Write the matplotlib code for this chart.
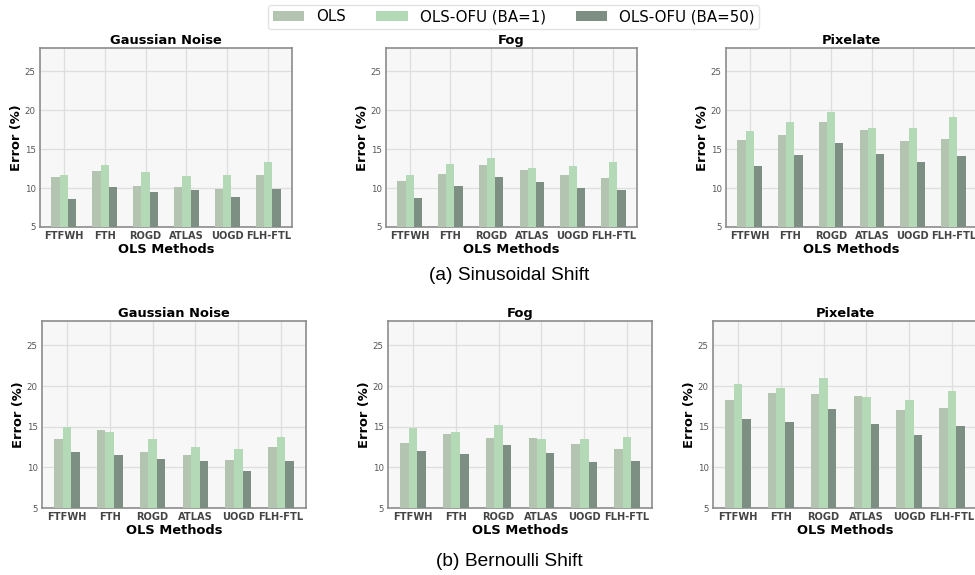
import numpy as np
import matplotlib
matplotlib.use("Agg")
import matplotlib.pyplot as plt

methods = ["FTFWH", "FTH", "ROGD", "ATLAS", "UOGD", "FLH-FTL"]
series = ["OLS", "OLS-OFU (BA=1)", "OLS-OFU (BA=50)"]
colors = ["#b3c5b1", "#b3d9b6", "#7d8e82"]
corruptions = ["Gaussian Noise", "Fog", "Pixelate"]

# Sinusoidal shift: [OLS, BA=1, BA=50] per corruption
sin_gauss_ols = [11.45, 12.18, 10.25, 10.12, 9.86, 11.67]
sin_gauss_ba1 = [11.67, 12.96, 12.05, 11.54, 11.67, 13.34]
sin_gauss_ba50 = [8.57, 10.12, 9.47, 9.73, 8.83, 9.86]

sin_fog_ols = [10.89, 11.80, 12.96, 12.31, 11.67, 11.28]
sin_fog_ba1 = [11.67, 13.09, 13.86, 12.57, 12.83, 13.34]
sin_fog_ba50 = [8.70, 10.25, 11.41, 10.76, 9.99, 9.73]

sin_pix_ols = [16.18, 16.83, 18.51, 17.47, 16.05, 16.31]
sin_pix_ba1 = [17.34, 18.51, 19.80, 17.73, 17.73, 19.15]
sin_pix_ba50 = [12.87, 14.25, 15.80, 14.38, 13.34, 14.12]

# Bernoulli shift
ber_gauss_ols = [13.52, 14.63, 11.93, 11.56, 10.94, 12.54]
ber_gauss_ba1 = [14.92, 14.39, 13.52, 12.54, 12.30, 13.77]
ber_gauss_ba50 = [11.93, 11.56, 11.07, 10.82, 9.59, 10.82]

ber_fog_ols = [13.03, 14.14, 13.65, 13.65, 12.91, 12.30]
ber_fog_ba1 = [14.88, 14.39, 15.25, 13.52, 13.52, 13.77]
ber_fog_ba50 = [12.05, 11.68, 12.79, 11.80, 10.70, 10.82]

ber_pix_ols = [18.32, 19.18, 19.06, 18.81, 17.09, 17.34]
ber_pix_ba1 = [20.29, 19.80, 21.02, 18.69, 18.32, 19.43]
ber_pix_ba50 = [15.98, 15.61, 17.21, 15.37, 14.02, 15.12]

top_data = [
    (sin_gauss_ols, sin_gauss_ba1, sin_gauss_ba50),
    (sin_fog_ols, sin_fog_ba1, sin_fog_ba50),
    (sin_pix_ols, sin_pix_ba1, sin_pix_ba50),
]
bottom_data = [
    (ber_gauss_ols, ber_gauss_ba1, ber_gauss_ba50),
    (ber_fog_ols, ber_fog_ba1, ber_fog_ba50),
    (ber_pix_ols, ber_pix_ba1, ber_pix_ba50),
]

W, H = 975, 575
fig = plt.figure(figsize=(W / 100, H / 100), dpi=100)


def px_axes(x0, y0, x1, y1):
    return fig.add_axes([x0 / W, 1 - y1 / H, (x1 - x0) / W, (y1 - y0) / H])


def draw_panel(ax, title, data):
    x = np.arange(len(methods))
    width = 0.2
    bars = []
    for k, vals in enumerate(data):
        b = ax.bar(x + (k - 1) * width, vals, width, color=colors[k],
                   label=series[k], zorder=3)
        bars.append(b)
    ax.set_facecolor("#f7f7f7")
    ax.set_ylim(5, 28)
    ax.set_yticks([5, 10, 15, 20, 25])
    ax.set_xticks(x)
    ax.set_xticklabels(methods, fontsize=7.1, fontweight="bold", color="#444444")
    ax.tick_params(axis="y", labelsize=6.2, colors="#555555", length=0, pad=3)
    ax.tick_params(axis="x", length=0, pad=3)
    ax.grid(True, color="#dedede", linewidth=0.9, zorder=0)
    for s in ax.spines.values():
        s.set_color("#8c8c8c")
        s.set_linewidth(1.2)
    ax.set_title(title, fontsize=9.4, fontweight="bold", pad=3)
    ax.set_xlabel("OLS Methods", fontsize=9.4, fontweight="bold", labelpad=1)
    ax.set_ylabel("Error (%)", fontsize=9.4, fontweight="bold", labelpad=1)
    return bars


top_boxes = [(40, 48, 292, 227), (386, 48, 637, 227), (726, 48, 977, 227)]
bottom_boxes = [(42, 321, 306, 508), (388, 321, 652, 508), (713, 321, 977, 508)]

handles = None
for box, title, data in zip(top_boxes, corruptions, top_data):
    ax = px_axes(*box)
    handles = draw_panel(ax, title, data)
for box, title, data in zip(bottom_boxes, corruptions, bottom_data):
    ax = px_axes(*box)
    draw_panel(ax, title, data)

fig.legend(handles, series, loc="upper center", bbox_to_anchor=(0.527, 1.005),
           ncol=3, fontsize=10.8, frameon=True, edgecolor="#dddddd",
           handlelength=2.1, columnspacing=2.0, handletextpad=0.8,
           borderpad=0.3, fancybox=True)

fig.text(0.522, 1 - 276 / H, "(a) Sinusoidal Shift", ha="center", va="center",
         fontsize=13.8, family="Liberation Sans")
fig.text(0.522, 1 - 561 / H, "(b) Bernoulli Shift", ha="center", va="center",
         fontsize=13.8, family="Liberation Sans")

fig.savefig("out.png", dpi=100)
